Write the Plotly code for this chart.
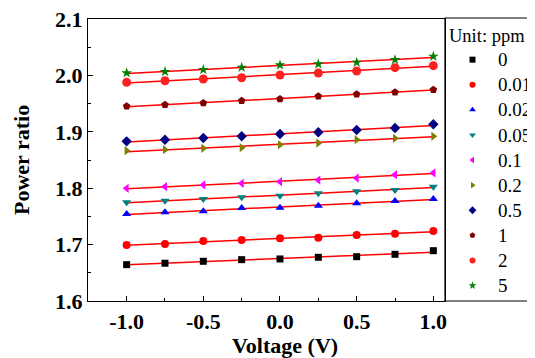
import numpy as np
import plotly.graph_objects as go

voltage = [-1.0, -0.75, -0.5, -0.25, 0.0, 0.25, 0.5, 0.75, 1.0]
labels = ["0", "0.01", "0.02", "0.05", "0.1", "0.2", "0.5", "1", "2", "5"]

s_0 = [1.6644, 1.6670, 1.6704, 1.6733, 1.6745, 1.6775, 1.6786, 1.6828, 1.6892]
s_001 = [1.6993, 1.7011, 1.7064, 1.7082, 1.7111, 1.7122, 1.7170, 1.7193, 1.7241]
s_002 = [1.7543, 1.7572, 1.7590, 1.7649, 1.7655, 1.7690, 1.7732, 1.7773, 1.7809]
s_005 = [1.7750, 1.7778, 1.7809, 1.7838, 1.7867, 1.7910, 1.7945, 1.7968, 1.8027]
s_01 = [1.7998, 1.8027, 1.8057, 1.8087, 1.8116, 1.8145, 1.8180, 1.8239, 1.8270]
s_02 = [1.8665, 1.8683, 1.8707, 1.8718, 1.8771, 1.8801, 1.8860, 1.8884, 1.8920]
s_05 = [1.8831, 1.8860, 1.8890, 1.8920, 1.8961, 1.8991, 1.9032, 1.9067, 1.9133]
s_1 = [1.9452, 1.9480, 1.9510, 1.9551, 1.9582, 1.9629, 1.9665, 1.9700, 1.9747]
s_2 = [1.9877, 1.9906, 1.9936, 1.9959, 2.0007, 2.0043, 2.0078, 2.0137, 2.0173]
s_5 = [2.0043, 2.0066, 2.0101, 2.0142, 2.0184, 2.0202, 2.0231, 2.0277, 2.0337]

series = [s_0, s_001, s_002, s_005, s_01, s_02, s_05, s_1, s_2, s_5]
colors = ["#000000", "#FF0000", "#0000FF", "#008080", "#FF00FF",
          "#808000", "#000080", "#800000", "#FF2020", "#008000"]
symbols = ["square", "circle", "triangle-up", "triangle-down", "triangle-left",
           "triangle-right", "diamond", "pentagon", "circle", "star"]
sizes = [7, 8, 8, 8, 8, 8, 8, 8, 9, 8]

fig = go.Figure()

# linear fit lines (red)
for ys in series:
    k, b = np.polyfit(voltage, ys, 1)
    xf = [voltage[0], voltage[-1]]
    fig.add_trace(go.Scatter(x=xf, y=[k * v + b for v in xf], mode="lines",
                             line=dict(color="#FF0000", width=1.5),
                             showlegend=False, hoverinfo="skip"))

for lab, ys, c, sym, sz in zip(labels, series, colors, symbols, sizes):
    fig.add_trace(go.Scatter(x=voltage, y=ys, mode="markers", name=lab,
                             showlegend=False,
                             marker=dict(color=c, symbol=sym, size=sz,
                                         line=dict(width=0))))
# legend entries (smaller symbols, as in the reference legend)
for lab, c, sym in zip(labels, colors, symbols):
    fig.add_trace(go.Scatter(x=[None], y=[None], mode="markers",
                             name='<span style="font-size:19px">' + lab + "</span>",
                             marker=dict(color=c, symbol=sym, size=6,
                                         line=dict(width=0))))

# page body has an 8px margin, so the figure is drawn 8px smaller
W, H = 527, 350
L, R, T, B = 80, 90, 11, 57
pw = W - L - R
ph = H - T - B

fig.add_shape(type="rect", xref="paper", yref="paper",
              x0=1.0, x1=1.0 + 120 / pw, y0=0, y1=1.0 + 1 / ph,
              line=dict(color="black", width=1.2), fillcolor="rgba(0,0,0,0)")

tick_font = dict(family="Liberation Serif", size=22, color="black")
title_font = dict(family="Liberation Serif", size=22, color="black")

fig.add_annotation(text="<b>Voltage (V)</b>", xref="paper", yref="paper",
                   x=0.5, y=0, yanchor="middle", xanchor="center",
                   yshift=-44, xshift=277 - (L + pw / 2),
                   showarrow=False, font=title_font)
fig.add_annotation(text="<b>Power ratio</b>", xref="paper", yref="paper",
                   x=0, y=0.5, yanchor="middle", xanchor="center",
                   xshift=-(L - 13), textangle=-90,
                   showarrow=False, font=title_font)

fig.update_layout(
    width=W, height=H,
    margin=dict(l=L, r=R, t=T, b=B),
    plot_bgcolor="white", paper_bgcolor="white",
    font=dict(family="Liberation Serif", color="black"),
    xaxis=dict(range=[-1.252, 1.076], tickvals=[-1.0, -0.5, 0.0, 0.5, 1.0],
               ticktext=["<b>-1.0</b>", "<b>-0.5</b>", "<b>0.0</b>", "<b>0.5</b>", "<b>1.0</b>"],
               ticks="inside", ticklen=5, tickwidth=1.2, tickcolor="black",
               minor=dict(dtick=0.25, ticks="inside", ticklen=3, tickcolor="black", tickwidth=1),
               showline=True, linecolor="black", linewidth=1.2, mirror=True,
               showgrid=False, zeroline=False, automargin=False,
               ticklabeloverflow="allow", tickfont=tick_font),
    yaxis=dict(range=[1.6, 2.1], tickvals=[1.6, 1.7, 1.8, 1.9, 2.0, 2.1],
               ticktext=["<b>1.6</b>", "<b>1.7</b>", "<b>1.8</b>", "<b>1.9</b>", "<b>2.0</b>", "<b>2.1</b>"],
               ticks="inside", ticklen=5, tickwidth=1.2, tickcolor="black",
               minor=dict(dtick=0.05, ticks="inside", ticklen=3, tickcolor="black", tickwidth=1),
               showline=True, linecolor="black", linewidth=1.2, mirror=True,
               showgrid=False, zeroline=False, automargin=False,
               ticklabeloverflow="allow", tickfont=tick_font),
    legend=dict(xref="container", yref="container",
                x=439 / W, xanchor="left", y=1 - 12 / H, yanchor="top",
                title=dict(text='<span style="font-size:18.5px">Unit: ppm</span>',
                           font=dict(family="Liberation Serif", size=17)),
                font=dict(family="Liberation Serif", size=17),
                bgcolor="rgba(0,0,0,0)", borderwidth=0, tracegroupgap=0,
                itemwidth=41, itemsizing="trace", maxheight=400),
)

fig.write_html("out.html")
